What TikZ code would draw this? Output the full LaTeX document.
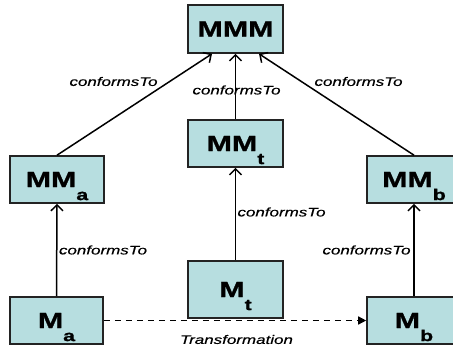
\documentclass[tikz,border=0pt]{standalone}
\usepackage{fontspec}
\setmainfont{Liberation Sans}[FakeStretch=1.38, BoldFeatures={FakeBold=1.2}, ItalicFeatures={FakeBold=0.4}]
\usetikzlibrary{arrows.meta}
\definecolor{boxfill}{RGB}{183,222,224}
\definecolor{boxline}{RGB}{35,35,35}
\newcommand{\sbs}[1]{\smash{\raisebox{-13pt}{\fontsize{15.5}{15.5}\selectfont #1}}}
\begin{document}
\begin{tikzpicture}[x=1pt,y=-1pt,
  box/.style={draw=boxline, fill=boxfill, line width=1.6pt, minimum width=94pt,
    minimum height=47pt, inner sep=0pt, font=\fontsize{22}{22}\selectfont\bfseries},
  lbl/.style={font=\fontsize{12.3}{12.3}\selectfont\itshape, inner sep=0pt},
  conf/.style={draw, line width=1.5pt, -{Straight Barb[length=6pt,width=12pt]}},
  trans/.style={draw, line width=1.5pt, dash pattern=on 6pt off 5pt,
    -{Triangle[length=8pt,width=8pt]}}]
\useasboundingbox (0,0) rectangle (453,349);
\clip (0,0) rectangle (453,349);
\node[box, minimum width=95pt, minimum height=48pt] (MMM) at (235.5,29) {MMM};
\node[box, minimum width=95pt] (MMt) at (235.5,143.5) {MM\sbs{t}};
\node[box] (MMa) at (57,179.5) {MM\sbs{a}};
\node[box] (MMb) at (414,179.5) {MM\sbs{b}};
\node[box, minimum width=95pt, minimum height=57pt] (Mt) at (235.5,289.5) {M\sbs{t}};
\node[box, minimum width=93pt] (Ma) at (56.5,320.5) {M\sbs{a}};
\node[box] (Mb) at (414,320.5) {M\sbs{b}};
\draw[conf] (MMa.north) -- ([xshift=-23.5pt]MMM.south);
\draw[conf] (MMt.north) -- (MMM.south);
\draw[conf] (MMb.north) -- ([xshift=23.5pt]MMM.south);
\draw[conf] (Ma.north) -- (MMa.south);
\draw[conf] (Mt.north) -- (MMt.south);
\draw[conf] (Mb.north) -- (MMb.south);
\draw[trans] (Ma.east) -- (Mb.west);
\node[lbl] (l1) at (113.5,81.5) {conformsTo};
\node[lbl] (l2) at (236.5,90) {conformsTo};
\node[lbl] (l3) at (358.5,81.5) {conformsTo};
\node[lbl] (l4) at (281.5,212) {conformsTo};
\node[lbl] (l5) at (103,250) {conformsTo};
\node[lbl] (l6) at (366.5,250) {conformsTo};
\node[lbl] (l7) at (236.5,339.5) {Transformation};
\end{tikzpicture}
\end{document}
